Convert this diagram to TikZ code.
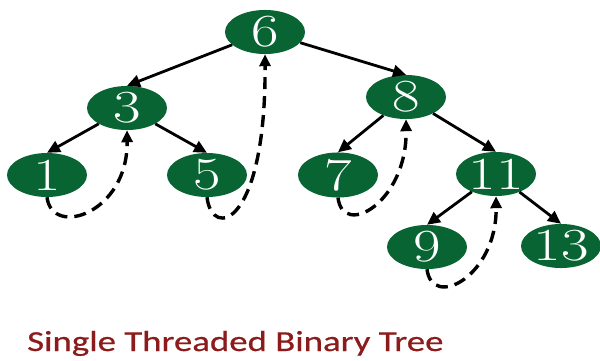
\documentclass[tikz,border=0pt]{standalone}
\usepackage{fontspec}
\newfontfamily\titlefont[FakeStretch=1.27,FakeBold=0.6]{Carlito}
\newfontfamily\digitfont[FakeStretch=1.3]{Latin Modern Roman}
\usetikzlibrary{shapes.geometric,arrows.meta}
\definecolor{nodegreen}{RGB}{8,100,50}
\definecolor{titlered}{RGB}{140,28,28}
\begin{document}
\begin{tikzpicture}[x=1pt,y=-1pt,
  tnode/.style={ellipse,fill=nodegreen,text=white,minimum width=80pt,minimum height=44pt,
    inner sep=0pt,font=\digitfont\fontsize{46}{46}\selectfont},
  child/.style={line width=2.8pt,-{Triangle[length=13pt,width=12pt]}},
  thread/.style={line width=3.4pt,dash pattern=on 12pt off 7pt,-{Triangle[length=12pt,width=11pt]}}]
\useasboundingbox (0,0) rectangle (600,360);
% tree nodes
\node[tnode] (n6)  at (265,32)  {6};
\node[tnode] (n3)  at (127,108) {3};
\node[tnode] (n8)  at (406,97)  {8};
\node[tnode] (n1)  at (47,175)  {1};
\node[tnode] (n5)  at (207,175) {5};
\node[tnode] (n7)  at (338,175) {7};
\node[tnode] (n11) at (496,174) {11};
\node[tnode] (n9)  at (427,247) {9};
\node[tnode] (n13) at (561,246) {13};
% child links
\draw[child] (n6) -- (n3.north);
\draw[child] (n6) -- (n8.north);
\draw[child] (n3) -- (n1.north);
\draw[child] (n3) -- (n5.north);
\draw[child] (n8) -- (n7.north);
\draw[child] (n8) -- (n11.north);
\draw[child] (n11) -- (n9.north);
\draw[child] (n11) -- (n13.north);
% right threads to in-order successors
\draw[thread] (n1.south) .. controls +(5,41) and +(1,83) .. (n3.south);
\draw[thread] (n5.south) .. controls +(5,43) and +(1,172) .. (n6.south);
\draw[thread] (n7.south) .. controls +(5,41) and +(1,83) .. (n8.south);
\draw[thread] (n9.south) .. controls +(5,41) and +(1,80) .. (n11.south);
% caption
\node[anchor=base west,inner sep=0pt,text=titlered,font=\titlefont\fontsize{29}{29}\selectfont]
  (cap) at (27,351) {Single Threaded Binary Tree};
\end{tikzpicture}
\end{document}
